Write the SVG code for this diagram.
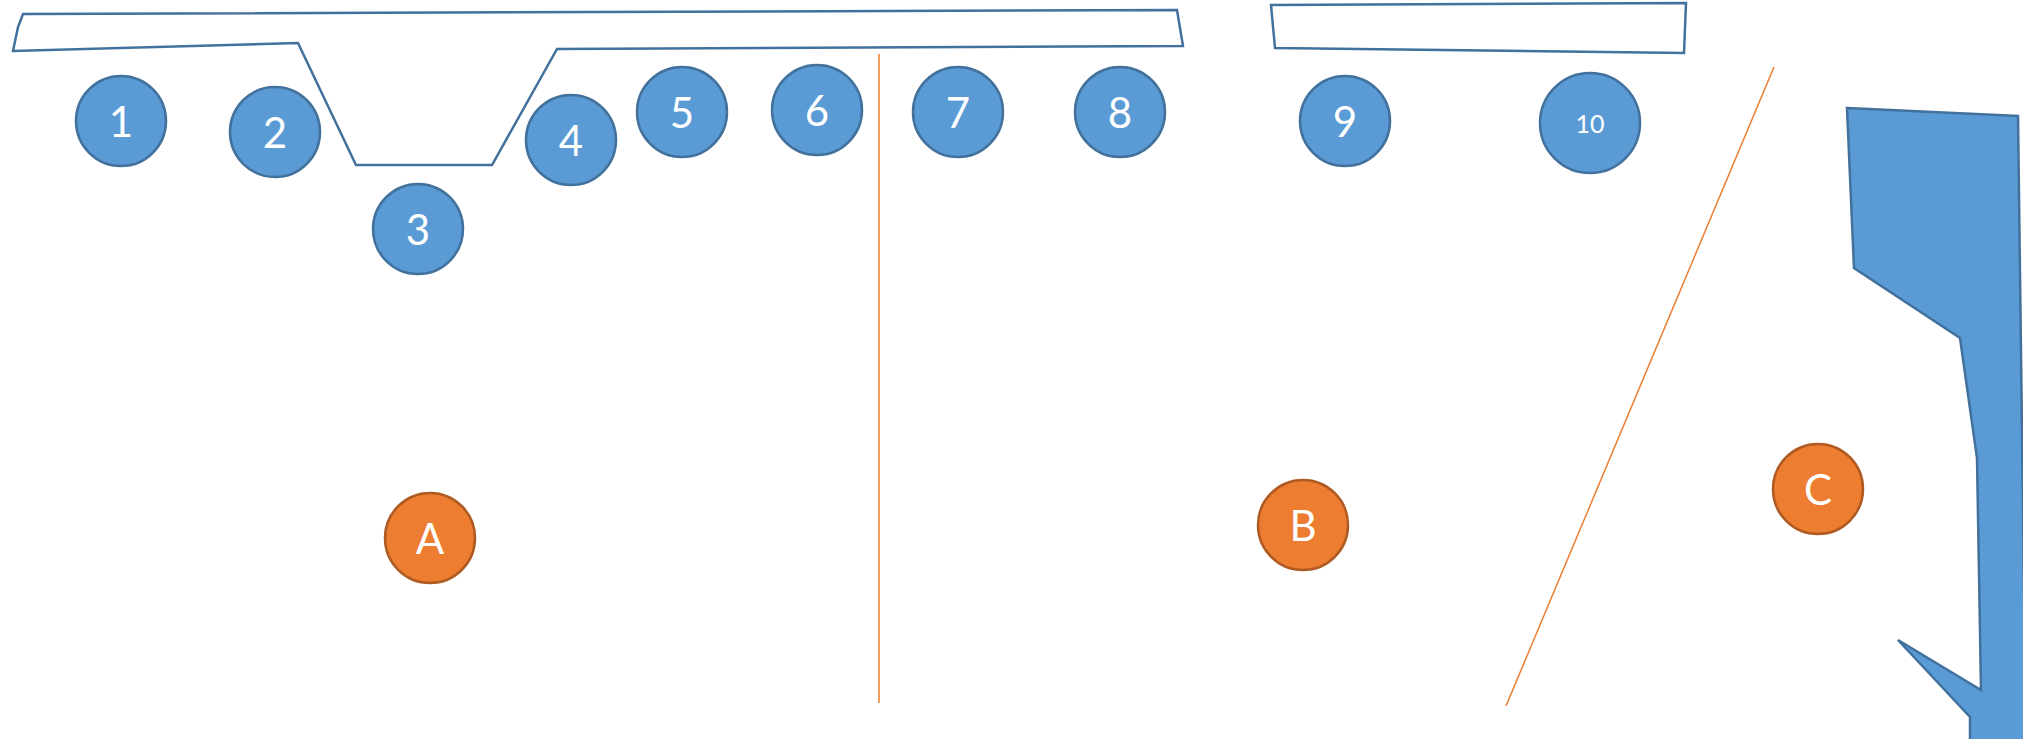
<svg xmlns="http://www.w3.org/2000/svg" width="2023" height="739" viewBox="0 0 2023 739">
<style>
.outline{fill:#ffffff;stroke:#41719c;stroke-width:2.5;stroke-linejoin:miter}
.blue{fill:#5b9bd5;stroke:#41719c;stroke-width:2.5}
.orange{fill:#ed7d31;stroke:#ae5a21;stroke-width:2.5}
.lbl{font-family:Lato,"Open Sans","Liberation Sans",sans-serif;font-size:42px;fill:#ffffff;text-anchor:middle;dominant-baseline:central}
.small{font-size:25px}
.guide{stroke:#ed7d31;stroke-width:1.5;fill:none}
</style>
<rect width="2023" height="739" fill="#ffffff"/>
<g id="shapes">
<polygon id="stage-left" class="outline" points="23,14 1177,10 1183,46 557,49 492,165 356,165 298,43 13,51 18,27"/>
<polygon id="stage-right" class="outline" points="1271,5 1686,3 1684,53 1275,48"/>
<polygon id="wall" class="blue" points="1847,108 2018,116 2026,745 1970,745 1970,717 1898,640 1981,690 1977,458 1960,338 1854,268"/>
</g>
<g id="connectors">
<line class="guide" x1="879" y1="54" x2="879" y2="703"/>
<line class="guide" x1="1774" y1="67" x2="1506" y2="706"/>
</g>
<g id="n1"><circle class="blue" cx="121" cy="121" r="45"/><text class="lbl" x="121" y="121">1</text></g>
<g id="n2"><circle class="blue" cx="275" cy="132" r="45"/><text class="lbl" x="275" y="132">2</text></g>
<g id="n3"><circle class="blue" cx="418" cy="229" r="45"/><text class="lbl" x="418" y="229">3</text></g>
<g id="n4"><circle class="blue" cx="571" cy="140" r="45"/><text class="lbl" x="571" y="140">4</text></g>
<g id="n5"><circle class="blue" cx="682" cy="112" r="45"/><text class="lbl" x="682" y="112">5</text></g>
<g id="n6"><circle class="blue" cx="817" cy="110" r="45"/><text class="lbl" x="817" y="110">6</text></g>
<g id="n7"><circle class="blue" cx="958" cy="112" r="45"/><text class="lbl" x="958" y="112">7</text></g>
<g id="n8"><circle class="blue" cx="1120" cy="112" r="45"/><text class="lbl" x="1120" y="112">8</text></g>
<g id="n9"><circle class="blue" cx="1345" cy="121" r="45"/><text class="lbl" x="1345" y="121">9</text></g>
<g id="n10"><circle class="blue" cx="1590" cy="123" r="50"/><text class="lbl small" x="1590" y="123">10</text></g>
<g id="nA"><circle class="orange" cx="430" cy="538" r="45"/><text class="lbl" x="430" y="538">A</text></g>
<g id="nB"><circle class="orange" cx="1303" cy="525" r="45"/><text class="lbl" x="1303" y="525">B</text></g>
<g id="nC"><circle class="orange" cx="1818" cy="489" r="45"/><text class="lbl" x="1818" y="489">C</text></g>
</svg>
